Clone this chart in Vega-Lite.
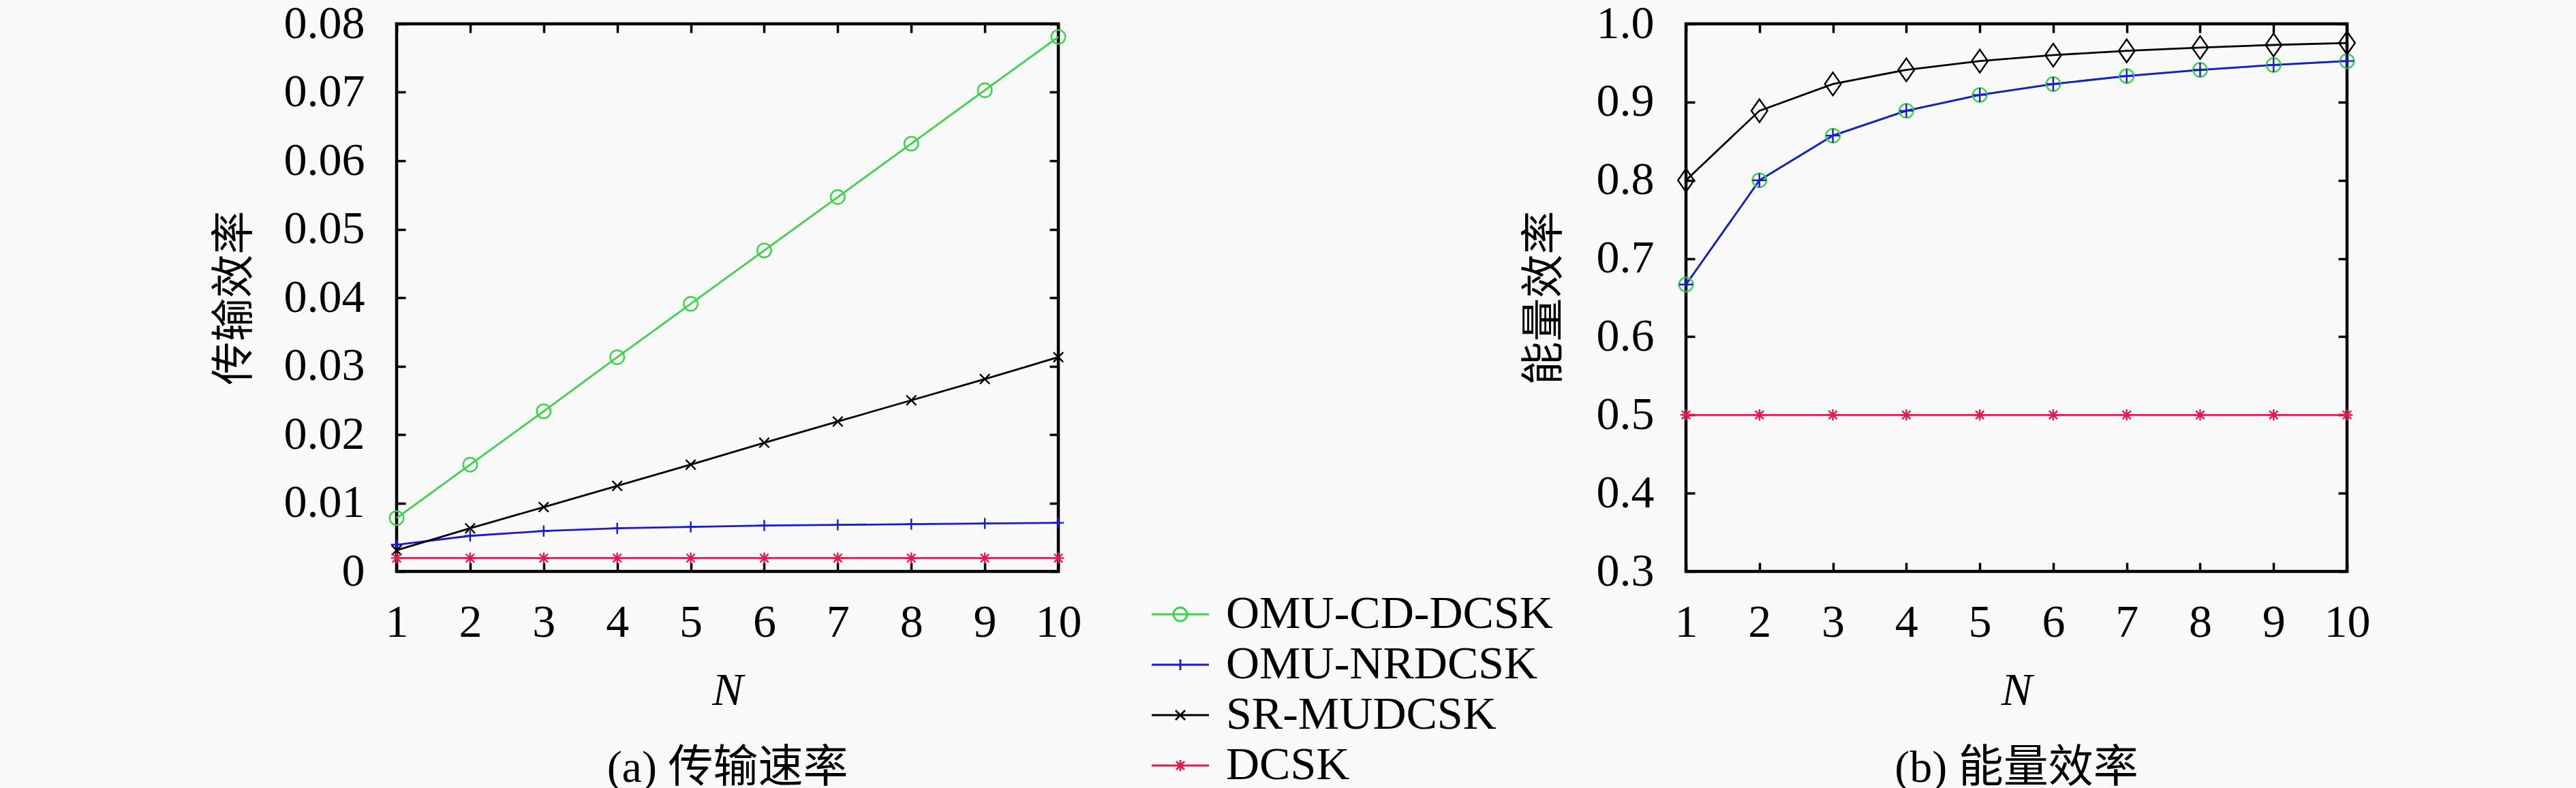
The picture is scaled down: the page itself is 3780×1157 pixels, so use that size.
{
  "$schema": "https://vega.github.io/schema/vega-lite/v6.json",
  "background": "#f9f9f9",
  "autosize": {"type": "none"},
  "padding": {"left": 582, "top": 35, "right": 3198, "bottom": 1122},
  "bounds": "flush",
  "spacing": 921,
  "config": {
    "font": "Liberation Serif",
    "view": {"stroke": "black", "strokeWidth": 4.5},
    "axis": {"domain": false, "grid": false, "ticks": true, "tickColor": "black", "tickWidth": 3.5, "tickSize": -13, "labelFontSize": 68, "labelColor": "black", "labelFont": "Liberation Serif", "titleColor": "black", "titleFontWeight": "normal", "labelFlush": false},
    "title": {"color": "black", "fontWeight": "normal", "font": "Liberation Serif, Noto Sans CJK SC", "fontSize": 66}
  },
  "datasets": {
    "d": [
      {"N": 1, "s": "OMU-CD-DCSK", "t": 0.0078, "e": 0.6667},
      {"N": 2, "s": "OMU-CD-DCSK", "t": 0.0156, "e": 0.8},
      {"N": 3, "s": "OMU-CD-DCSK", "t": 0.0234, "e": 0.8571},
      {"N": 4, "s": "OMU-CD-DCSK", "t": 0.0313, "e": 0.8889},
      {"N": 5, "s": "OMU-CD-DCSK", "t": 0.0391, "e": 0.9091},
      {"N": 6, "s": "OMU-CD-DCSK", "t": 0.0469, "e": 0.9231},
      {"N": 7, "s": "OMU-CD-DCSK", "t": 0.0547, "e": 0.9333},
      {"N": 8, "s": "OMU-CD-DCSK", "t": 0.0625, "e": 0.9412},
      {"N": 9, "s": "OMU-CD-DCSK", "t": 0.0703, "e": 0.9474},
      {"N": 10, "s": "OMU-CD-DCSK", "t": 0.0781, "e": 0.9524},
      {"N": 1, "s": "OMU-NRDCSK", "t": 0.0039, "e": 0.6667},
      {"N": 2, "s": "OMU-NRDCSK", "t": 0.0052, "e": 0.8},
      {"N": 3, "s": "OMU-NRDCSK", "t": 0.0059, "e": 0.8571},
      {"N": 4, "s": "OMU-NRDCSK", "t": 0.0063, "e": 0.8889},
      {"N": 5, "s": "OMU-NRDCSK", "t": 0.0065, "e": 0.9091},
      {"N": 6, "s": "OMU-NRDCSK", "t": 0.0067, "e": 0.9231},
      {"N": 7, "s": "OMU-NRDCSK", "t": 0.0068, "e": 0.9333},
      {"N": 8, "s": "OMU-NRDCSK", "t": 0.0069, "e": 0.9412},
      {"N": 9, "s": "OMU-NRDCSK", "t": 0.0070, "e": 0.9474},
      {"N": 10, "s": "OMU-NRDCSK", "t": 0.0071, "e": 0.9524},
      {"N": 1, "s": "SR-MUDCSK", "t": 0.0031, "e": 0.8},
      {"N": 2, "s": "SR-MUDCSK", "t": 0.0063, "e": 0.8889},
      {"N": 3, "s": "SR-MUDCSK", "t": 0.0094, "e": 0.9231},
      {"N": 4, "s": "SR-MUDCSK", "t": 0.0125, "e": 0.9412},
      {"N": 5, "s": "SR-MUDCSK", "t": 0.0156, "e": 0.9524},
      {"N": 6, "s": "SR-MUDCSK", "t": 0.0188, "e": 0.96},
      {"N": 7, "s": "SR-MUDCSK", "t": 0.0219, "e": 0.9655},
      {"N": 8, "s": "SR-MUDCSK", "t": 0.025, "e": 0.9697},
      {"N": 9, "s": "SR-MUDCSK", "t": 0.0281, "e": 0.973},
      {"N": 10, "s": "SR-MUDCSK", "t": 0.0313, "e": 0.9756},
      {"N": 1, "s": "DCSK", "t": 0.00195, "e": 0.5},
      {"N": 2, "s": "DCSK", "t": 0.00195, "e": 0.5},
      {"N": 3, "s": "DCSK", "t": 0.00195, "e": 0.5},
      {"N": 4, "s": "DCSK", "t": 0.00195, "e": 0.5},
      {"N": 5, "s": "DCSK", "t": 0.00195, "e": 0.5},
      {"N": 6, "s": "DCSK", "t": 0.00195, "e": 0.5},
      {"N": 7, "s": "DCSK", "t": 0.00195, "e": 0.5},
      {"N": 8, "s": "DCSK", "t": 0.00195, "e": 0.5},
      {"N": 9, "s": "DCSK", "t": 0.00195, "e": 0.5},
      {"N": 10, "s": "DCSK", "t": 0.00195, "e": 0.5}
    ]
  },
  "data": {"name": "d"},
  "hconcat": [
    {
      "width": 971,
      "height": 804,
      "title": {"text": "(a) 传输速率", "orient": "bottom", "anchor": "middle", "offset": 48},
      "layer": [
        {
          "mark": {"type": "line", "strokeWidth": 2.8},
          "encoding": {
            "x": {"field": "N", "type": "quantitative", "scale": {"domain": [1, 10], "nice": false, "zero": false},
                  "axis": {"values": [1,2,3,4,5,6,7,8,9,10], "title": "N", "titleFontStyle": "italic", "titleFontSize": 68, "labelPadding": 54, "titlePadding": 32}},
            "y": {"field": "t", "type": "quantitative", "scale": {"domain": [0, 0.08], "nice": false},
                  "axis": {"values": [0,0.01,0.02,0.03,0.04,0.05,0.06,0.07,0.08], "labelExpr": "datum.value == 0 ? '0' : format(datum.value, '.2f')", "title": "传输效率", "titleFont": "Noto Sans CJK SC", "titleFontSize": 64, "labelPadding": 60, "titlePadding": 40}},
            "color": {"field": "s", "type": "nominal",
                      "scale": {"domain": ["OMU-CD-DCSK", "OMU-NRDCSK", "SR-MUDCSK", "DCSK"], "range": ["#3cd24a", "#1a1ad0", "#000000", "#e31a4b"]},
                      "legend": {"title": null, "orient": "none", "legendX": 1116, "legendY": 833, "padding": 0,
                                 "labelFont": "Liberation Serif", "labelFontSize": 68, "labelColor": "black", "labelOffset": 33, "labelLimit": 0,
                                 "rowPadding": 6, "symbolSize": 400, "symbolStrokeWidth": 2.8,
                                 "encode": {"symbols": {"update": {
                                   "fill": {"value": "transparent"},
                                   "shape": {"signal": "datum.value === 'OMU-CD-DCSK' ? 'M-4.2,0H4.2M1,0A1,1 0 1,1 -1,0A1,1 0 1,1 1,0' : datum.value === 'OMU-NRDCSK' ? 'M-4.2,0H4.2M0,-0.8V0.8' : datum.value === 'SR-MUDCSK' ? 'M-4.2,0H4.2M-0.7,-0.7L0.7,0.7M-0.7,0.7L0.7,-0.7' : 'M-4.2,0H4.2M0,-0.8V0.8M-0.6,-0.6L0.6,0.6M-0.6,0.6L0.6,-0.6'"}
                                 }}}}}
          }
        },
        {
          "mark": {"type": "point", "filled": false, "strokeWidth": 2.4, "size": 420, "opacity": 1},
          "encoding": {
            "x": {"field": "N", "type": "quantitative", "axis": {"orient": "top", "values": [1,2,3,4,5,6,7,8,9,10], "labels": false, "title": null}},
            "y": {"field": "t", "type": "quantitative", "axis": {"orient": "right", "values": [0,0.01,0.02,0.03,0.04,0.05,0.06,0.07,0.08], "labels": false, "title": null}},
            "color": {"field": "s", "type": "nominal"},
            "shape": {"field": "s", "type": "nominal",
                      "scale": {"domain": ["OMU-CD-DCSK", "OMU-NRDCSK", "SR-MUDCSK", "DCSK"],
                                "range": ["M1,0A1,1 0 1,1 -1,0A1,1 0 1,1 1,0Z", "M-0.8,0H0.8M0,-0.8V0.8", "M-0.7,-0.7L0.7,0.7M-0.7,0.7L0.7,-0.7", "M-0.8,0H0.8M0,-0.8V0.8M-0.6,-0.6L0.6,0.6M-0.6,0.6L0.6,-0.6"]},
                      "legend": null}
          }
        }
      ],
      "resolve": {"axis": {"x": "independent", "y": "independent"}}
    },
    {
      "width": 970,
      "height": 804,
      "title": {"text": "(b) 能量效率", "orient": "bottom", "anchor": "middle", "offset": 48},
      "layer": [
        {
          "mark": {"type": "line", "strokeWidth": 2.8},
          "encoding": {
            "x": {"field": "N", "type": "quantitative", "scale": {"domain": [1, 10], "nice": false, "zero": false},
                  "axis": {"values": [1,2,3,4,5,6,7,8,9,10], "title": "N", "titleFontStyle": "italic", "titleFontSize": 68, "labelPadding": 54, "titlePadding": 32}},
            "y": {"field": "e", "type": "quantitative", "scale": {"domain": [0.3, 1.0], "nice": false, "zero": false},
                  "axis": {"values": [0.3,0.4,0.5,0.6,0.7,0.8,0.9,1.0], "format": ".1f", "title": "能量效率", "titleFont": "Noto Sans CJK SC", "titleFontSize": 64, "labelPadding": 60, "titlePadding": 44}},
            "color": {"field": "s", "type": "nominal"}
          }
        },
        {
          "mark": {"type": "point", "filled": false, "strokeWidth": 2.4, "size": 420, "opacity": 1},
          "encoding": {
            "x": {"field": "N", "type": "quantitative", "axis": {"orient": "top", "values": [1,2,3,4,5,6,7,8,9,10], "labels": false, "title": null}},
            "y": {"field": "e", "type": "quantitative", "axis": {"orient": "right", "values": [0.3,0.4,0.5,0.6,0.7,0.8,0.9,1.0], "labels": false, "title": null}},
            "color": {"field": "s", "type": "nominal"},
            "shape": {"field": "s", "type": "nominal",
                      "scale": {"domain": ["OMU-CD-DCSK", "OMU-NRDCSK", "SR-MUDCSK", "DCSK"],
                                "range": ["M1,0A1,1 0 1,1 -1,0A1,1 0 1,1 1,0Z", "M-1,0H1M0,-1V1", "M0,-1.65L1.15,0L0,1.65L-1.15,0Z", "M-0.8,0H0.8M0,-0.8V0.8M-0.6,-0.6L0.6,0.6M-0.6,0.6L0.6,-0.6"]},
                      "legend": null}
          }
        }
      ],
      "resolve": {"axis": {"x": "independent", "y": "independent"}}
    }
  ],
  "resolve": {"scale": {"shape": "independent"}}
}
